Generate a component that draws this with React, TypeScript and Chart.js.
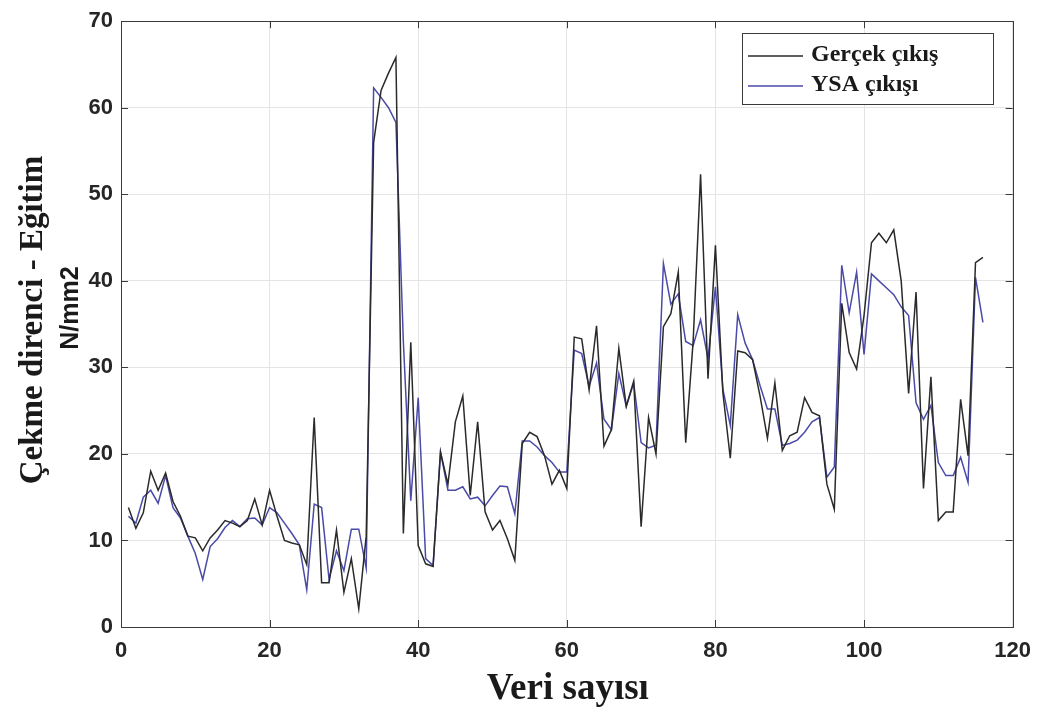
import React, { useEffect, useRef } from "react";
import { Chart, registerables } from "chart.js";

Chart.register(...registerables);

// Measured values (index 1..116)
const gercekCikis: number[] = [
  13.8, 11.4, 13.2, 18.0, 15.8, 17.8, 14.5, 12.8, 10.5, 10.3,
  8.8, 10.3, 11.2, 12.3, 12.0, 11.6, 12.3, 14.8, 11.8, 15.8,
  12.8, 10.0, 9.7, 9.5, 7.2, 24.2, 5.1, 5.1, 11.2, 4.0,
  7.9, 2.1, 10.5, 56.0, 62.0, 64.0, 65.8, 10.8, 32.9, 9.4,
  7.3, 7.0, 20.2, 16.5, 23.7, 26.7, 15.2, 23.7, 13.3, 11.2,
  12.3, 10.2, 7.7, 21.2, 22.5, 22.0, 19.8, 16.5, 18.1, 16.0,
  33.5, 33.3, 27.4, 34.8, 20.9, 22.8, 32.2, 25.5, 28.4, 11.6,
  24.2, 20.0, 34.7, 36.2, 41.0, 21.3, 33.0, 52.3, 28.7, 44.1,
  27.1, 19.5, 31.9, 31.7, 30.9, 26.7, 21.8, 28.2, 20.4, 22.1,
  22.5, 26.5, 24.8, 24.4, 16.5, 13.6, 37.4, 31.7, 29.8, 36.0,
  44.4, 45.5, 44.4, 45.9, 40.0, 27.0, 38.7, 16.0, 28.9, 12.3,
  13.3, 13.3, 26.3, 19.8, 42.1, 42.7,
];

const ysaCikisi: number[] = [
  12.8, 12.0, 15.0, 15.8, 14.3, 17.5, 13.8, 12.6, 10.5, 8.5,
  5.5, 9.3, 10.2, 11.5, 12.3, 11.6, 12.5, 12.6, 11.8, 13.8,
  13.2, 12.0, 10.8, 9.5, 4.3, 14.2, 13.8, 5.5, 8.8, 6.5,
  11.3, 11.3, 6.8, 62.3, 61.2, 60.0, 58.3, 33.0, 14.6, 26.5,
  7.9, 7.1, 20.2, 15.8, 15.8, 16.2, 14.8, 15.0, 14.0, 15.2,
  16.3, 16.2, 13.1, 21.5, 21.5, 20.8, 19.8, 19.0, 17.9, 17.9,
  32.0, 31.6, 27.8, 30.5, 24.0, 22.8, 29.3, 25.5, 28.2, 21.3,
  20.7, 21.0, 42.0, 37.3, 38.5, 33.0, 32.5, 35.5, 31.0, 39.3,
  27.5, 23.3, 36.1, 32.8, 30.9, 27.9, 25.2, 25.2, 21.0, 21.2,
  21.6, 22.5, 23.7, 24.2, 17.3, 18.5, 41.8, 36.3, 41.0, 31.5,
  40.8, 40.0, 39.2, 38.4, 37.0, 36.0, 25.9, 24.0, 25.6, 19.0,
  17.5, 17.5, 19.6, 16.7, 40.4, 35.2,
];

const xTickValues: number[] = [0, 20, 40, 60, 80, 100, 120];
const yTickValues: number[] = [0, 10, 20, 30, 40, 50, 60, 70];

const seriesLabels: string[] = ["Gerçek çıkış", "YSA çıkışı"];
const seriesColors: string[] = ["#2a2a2a", "#4a4aa8"];
const xTitle = "Veri sayısı";
const yTitleLines: string[] = ["Çekme direnci - Eğitim", "N/mm2"];

const framePlugin = {
  id: "matlabFrame",
  afterDraw(chart: any) {
    const ctx = chart.ctx as CanvasRenderingContext2D;
    const { left, right, top, bottom } = chart.chartArea;
    const xs = chart.scales.x;
    const ys = chart.scales.y;
    ctx.save();
    // frame
    ctx.strokeStyle = "#3a3a3a";
    ctx.lineWidth = 1;
    ctx.strokeRect(Math.round(left) + 0.5, Math.round(top) + 0.5, Math.round(right - left), Math.round(bottom - top));
    // inward ticks
    const tl = 7;
    ctx.beginPath();
    xTickValues.forEach((v) => {
      const px = Math.round(xs.getPixelForValue(v)) + 0.5;
      ctx.moveTo(px, bottom);
      ctx.lineTo(px, bottom - tl);
      ctx.moveTo(px, top);
      ctx.lineTo(px, top + tl);
    });
    yTickValues.forEach((v) => {
      const py = Math.round(ys.getPixelForValue(v)) + 0.5;
      ctx.moveTo(left, py);
      ctx.lineTo(left + tl, py);
      ctx.moveTo(right, py);
      ctx.lineTo(right - tl, py);
    });
    ctx.stroke();

    // x title
    ctx.fillStyle = "#1a1a1a";
    ctx.textAlign = "center";
    ctx.textBaseline = "middle";
    ctx.font = 'bold 37px "Liberation Serif"';
    ctx.fillText(xTitle, (left + right) / 2 + 1, 689);

    // y title (two lines)
    ctx.save();
    ctx.translate(33, 320);
    ctx.rotate(-Math.PI / 2);
    ctx.font = 'bold 33px "Liberation Serif"';
    ctx.fillText(yTitleLines[0], 0, 0);
    ctx.restore();
    ctx.save();
    ctx.translate(71, 308);
    ctx.rotate(-Math.PI / 2);
    ctx.font = 'bold 25px "Liberation Sans"';
    ctx.fillText(yTitleLines[1], 0, 0);
    ctx.restore();

    // legend
    const lx = 742, ly = 33, lw = 251, lh = 71;
    ctx.fillStyle = "#ffffff";
    ctx.fillRect(lx, ly, lw, lh);
    ctx.strokeStyle = "#3a3a3a";
    ctx.lineWidth = 1;
    ctx.strokeRect(lx + 0.5, ly + 0.5, lw, lh);
    const rows = [55, 85];
    chart.data.datasets.forEach((ds: any, i: number) => {
      const y = rows[i];
      ctx.strokeStyle = ds.borderColor;
      ctx.lineWidth = 1.5;
      ctx.beginPath();
      ctx.moveTo(748, y + 1);
      ctx.lineTo(803, y + 1);
      ctx.stroke();
      ctx.fillStyle = "#1a1a1a";
      ctx.textAlign = "left";
      ctx.textBaseline = "middle";
      ctx.font = 'bold 24px "Liberation Serif"';
      ctx.fillText(ds.label, 811, y);
    });
    ctx.restore();
  },
};

export default function App() {
  const canvasRef = useRef<HTMLCanvasElement | null>(null);

  useEffect(() => {
    if (!canvasRef.current) return;
    const toPoints = (arr: number[]) => arr.map((v, i) => ({ x: i + 1, y: v }));
    const chart = new Chart(canvasRef.current, {
      type: "line",
      data: {
        datasets: [
          {
            label: seriesLabels[0],
            data: toPoints(gercekCikis),
            borderColor: seriesColors[0],
            borderWidth: 1.5,
            pointRadius: 0,
            tension: 0,
            fill: false,
          },
          {
            label: seriesLabels[1],
            data: toPoints(ysaCikisi),
            borderColor: seriesColors[1],
            borderWidth: 1.5,
            pointRadius: 0,
            tension: 0,
            fill: false,
          },
        ],
      },
      options: {
        animation: false,
        responsive: true,
        maintainAspectRatio: false,
        layout: { padding: { left: 0, right: 26, top: 17, bottom: 0 } },
        plugins: {
          legend: { display: false },
          tooltip: { enabled: false },
        },
        scales: {
          x: {
            type: "linear",
            min: 0,
            max: 120,
            afterBuildTicks: (scale: any) => {
              scale.ticks = xTickValues.map((v) => ({ value: v }));
            },
            ticks: {
              font: { family: '"Liberation Sans"', size: 22, weight: "bold" },
              color: "#262626",
              padding: 11,
              maxRotation: 0,
            },
            grid: { color: "#e4e4e4", lineWidth: 1, drawTicks: false },
            border: { display: false },
            afterFit: (scale: any) => {
              scale.height = 86;
            },
          },
          y: {
            type: "linear",
            min: 0,
            max: 70,
            afterBuildTicks: (scale: any) => {
              scale.ticks = yTickValues.map((v) => ({ value: v }));
            },
            ticks: {
              font: { family: '"Liberation Sans"', size: 22, weight: "bold" },
              color: "#262626",
              padding: 8,
            },
            grid: { color: "#e4e4e4", lineWidth: 1, drawTicks: false },
            border: { display: false },
            afterFit: (scale: any) => {
              scale.width = 121;
            },
          },
        },
      },
      plugins: [framePlugin],
    });
    return () => chart.destroy();
  }, []);

  return (
    <div style={{ position: "fixed", left: 0, top: 0, width: 1042, height: 713, background: "#ffffff" }}>
      <canvas ref={canvasRef} />
    </div>
  );
}
